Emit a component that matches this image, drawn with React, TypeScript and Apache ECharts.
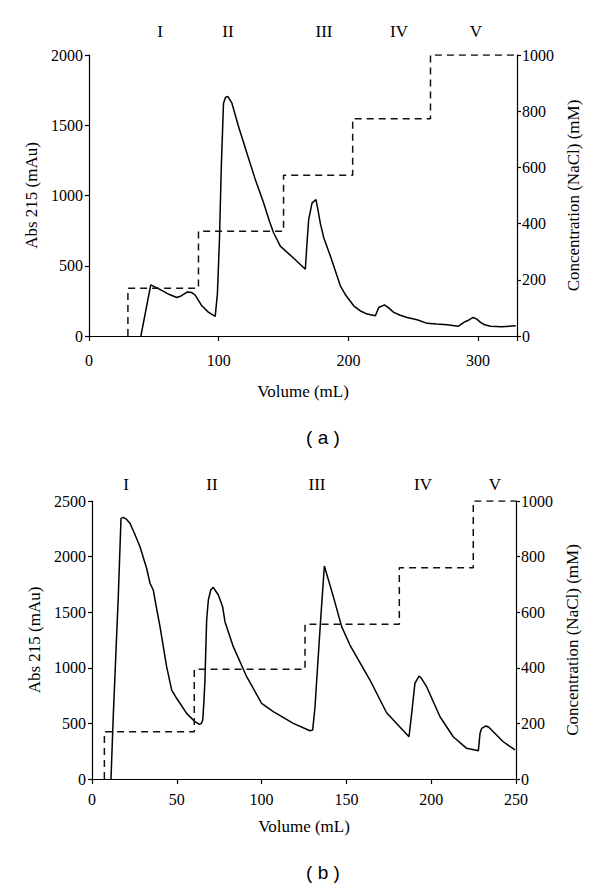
import React, { useEffect, useRef } from "react";
import * as echarts from "echarts";

// ---------- Data (panel a) ----------
const absA: number[][] = [
  [40, 0], [47.6, 364], [55, 330], [62, 295], [67.7, 274], [71, 285], [75.9, 314], [79, 310],
  [81.9, 291], [87, 215], [92, 170], [97.3, 140], [99, 300], [100.6, 688], [102, 1200],
  [103.7, 1657], [105.3, 1700], [107.1, 1704], [110.2, 1657], [115, 1500], [121.7, 1302],
  [128, 1120], [134.6, 948], [139, 820], [142.3, 735], [147.5, 640], [157, 560], [166.8, 475],
  [168, 650], [169.4, 830], [172, 948], [175, 971], [176.5, 900], [178.4, 800], [181, 700],
  [186.1, 569], [193.8, 357], [198, 290], [204.1, 215], [209, 180], [214.4, 156], [220.8, 144],
  [223.4, 203], [227.8, 222], [231, 200], [235, 168], [240, 148], [245.3, 132], [253, 116],
  [260.7, 90], [268, 85], [276.2, 80], [284.6, 69], [289, 97], [292, 110], [296.2, 132],
  [299, 120], [301.9, 97], [305, 80], [309.7, 69], [318, 66], [329, 73],
];
const naclA: number[][] = [
  [30, 0], [30, 170], [84.4, 170], [84.4, 373], [150, 373], [150, 572], [203.3, 572],
  [203.3, 773], [263.3, 773], [263.3, 1000], [330, 1000],
];

// ---------- Data (panel b) ----------
const absB: number[][] = [
  [11.2, 0], [12.6, 590], [14, 1100], [15.5, 1640], [17.1, 2344], [18.5, 2353], [20, 2340],
  [22.4, 2300], [25, 2210], [28.3, 2089], [32.2, 1895], [34.2, 1760], [36.1, 1700], [38, 1540],
  [40.1, 1370], [44, 1010], [47, 800], [49.9, 726], [55.8, 590], [60.7, 515], [63.3, 491],
  [64.5, 500], [65.3, 530], [66, 700], [66.6, 890], [67.6, 1430], [68.6, 1610], [70, 1700],
  [71.5, 1724], [74.5, 1655], [77, 1550], [78.4, 1415], [83.3, 1190], [91.2, 920], [100, 681],
  [106.9, 605], [118.7, 500], [128.5, 434], [130.1, 440], [131.5, 650], [132.5, 890],
  [134.8, 1430], [137, 1915], [142.3, 1640], [147.2, 1370], [152.1, 1205], [163.9, 890],
  [173.7, 596], [186.9, 380], [188.5, 590], [190.4, 860], [192.8, 926], [194, 910],
  [197.3, 830], [205.2, 560], [213, 380], [220.9, 276], [227.8, 255], [228.8, 411],
  [229.8, 456], [232.3, 477], [234, 465], [236.6, 425], [242.5, 335], [249.4, 261],
];
const naclB: number[][] = [
  [7.3, 0], [7.3, 170], [60.3, 170], [60.3, 395], [125.6, 395], [125.6, 557], [181.2, 557],
  [181.2, 760], [224.8, 760], [224.8, 1000], [250, 1000],
];

const fractions = ["I", "II", "III", "IV", "V"];
const panelLabels = ["( a )", "( b )"];
const xTitle = "Volume (mL)";
const yLeftTitle = "Abs 215 (mAu)";
const yRightTitle = "Concentration (NaCl) (mM)";

const SERIF = "Liberation Serif";
const SANS = "Liberation Sans";

export default function App() {
  const ref = useRef<HTMLDivElement>(null);
  useEffect(() => {
    if (!ref.current) return;
    const chart = echarts.init(ref.current, null, { renderer: "svg" });
    const axisLine = { show: true, lineStyle: { color: "#000", width: 1.2 } };
    const axisTick = { show: true, inside: false, length: 4, lineStyle: { color: "#000", width: 1.2 } };
    const lblStyle = { color: "#000", fontFamily: SERIF, fontSize: 16 };
    const nameStyle = { color: "#000", fontFamily: SERIF, fontSize: 17 };
    const plain = (v: number) => String(v);

    const mkX = (gridIndex: number, max: number, interval: number, margin: number, nameGap: number) => ({
      type: "value",
      gridIndex,
      min: 0,
      max,
      interval,
      name: xTitle,
      nameLocation: "middle",
      nameGap,
      nameTextStyle: nameStyle,
      axisLine,
      axisTick: { ...axisTick, length: 5 },
      splitLine: { show: false },
      axisLabel: {
        ...lblStyle,
        margin,
        formatter: (v: number) => (v % interval === 0 ? String(v) : ""),
      },
    });
    const mkYL = (gridIndex: number, max: number, interval: number) => ({
      type: "value",
      gridIndex,
      position: "left",
      min: 0,
      max,
      interval,
      name: yLeftTitle,
      nameLocation: "middle",
      nameRotate: 90,
      nameGap: 47,
      nameTextStyle: nameStyle,
      axisLine,
      axisTick,
      splitLine: { show: false },
      axisLabel: { ...lblStyle, margin: 6, formatter: plain },
    });
    const mkYR = (gridIndex: number) => ({
      type: "value",
      gridIndex,
      position: "right",
      min: 0,
      max: 1000,
      interval: 200,
      name: yRightTitle,
      nameLocation: "middle",
      nameRotate: 90,
      nameGap: 40,
      nameTextStyle: nameStyle,
      axisLine,
      axisTick,
      splitLine: { show: false },
      axisLabel: { ...lblStyle, margin: 5, formatter: plain },
    });

    const fracPosA = [160, 228, 324, 399, 476];
    const fracPosB = [126, 212, 317, 423, 495];
    const graphics: any[] = [];
    fractions.forEach((f, i) => {
      graphics.push({
        type: "text", x: fracPosA[i], y: 31,
        style: { text: f, fill: "#000", fontFamily: SERIF, fontSize: 17, align: "center", verticalAlign: "middle" },
      });
      graphics.push({
        type: "text", x: fracPosB[i], y: 484,
        style: { text: f, fill: "#000", fontFamily: SERIF, fontSize: 17, align: "center", verticalAlign: "middle" },
      });
    });
    graphics.push({
      type: "text", x: 323, y: 437,
      style: { text: panelLabels[0], fill: "#000", fontFamily: SANS, fontSize: 19, align: "center", verticalAlign: "middle" },
    });
    graphics.push({
      type: "text", x: 323, y: 872,
      style: { text: panelLabels[1], fill: "#000", fontFamily: SANS, fontSize: 19, align: "center", verticalAlign: "middle" },
    });

    const solid = { color: "#000", width: 1.5 };
    const dashed = { color: "#111", width: 1.5, type: [7, 5] as any };

    chart.setOption({
      animation: false,
      backgroundColor: "#fff",
      textStyle: { fontFamily: SERIF },
      grid: [
        { left: 89, right: 83, top: 55, height: 281 },
        { left: 92, right: 84, top: 501, height: 278 },
      ],
      xAxis: [mkX(0, 330, 100, 16, 47), mkX(1, 250, 50, 12, 39)],
      yAxis: [mkYL(0, 2000, 500), mkYR(0), mkYL(1, 2500, 500), mkYR(1)],
      series: [
        { type: "line", xAxisIndex: 0, yAxisIndex: 0, data: absA, showSymbol: false, lineStyle: solid, smooth: false },
        { type: "line", xAxisIndex: 0, yAxisIndex: 1, data: naclA, showSymbol: false, lineStyle: dashed },
        { type: "line", xAxisIndex: 1, yAxisIndex: 2, data: absB, showSymbol: false, lineStyle: solid, smooth: false },
        { type: "line", xAxisIndex: 1, yAxisIndex: 3, data: naclB, showSymbol: false, lineStyle: dashed },
      ],
      graphic: graphics,
    });
    return () => chart.dispose();
  }, []);
  return (
    <div
      ref={ref}
      style={{ position: "absolute", left: 0, top: 0, width: 600, height: 888 }}
    />
  );
}
